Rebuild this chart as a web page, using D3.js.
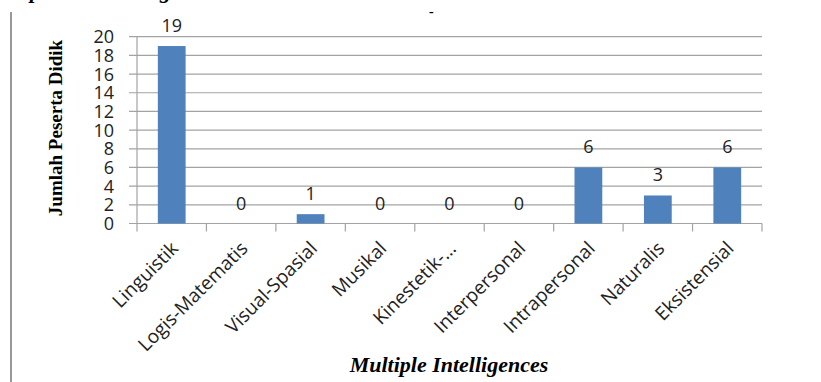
<!DOCTYPE html>
<html><head><meta charset="utf-8">
<script src="https://cdn.jsdelivr.net/npm/d3@7/dist/d3.min.js"></script>
<style>body{margin:0;background:#fff}svg{display:block}</style>
</head><body>
<script>
const categories = ["Linguistik","Logis-Matematis","Visual-Spasial","Musikal","Kinestetik-…","Interpersonal","Intrapersonal","Naturalis","Eksistensial"];
const values = [19,0,1,0,0,0,6,3,6];
const yTicks = [0,2,4,6,8,10,12,14,16,18,20];
const yTitle = "Jumlah Peserta Didik";
const xTitle = "Multiple Intelligences";

const W = 821, H = 382;
const svg = d3.select("body").append("svg").attr("width", W).attr("height", H);

// left page border line
svg.append("line").attr("x1",11).attr("x2",11).attr("y1",12).attr("y2",H)
  .attr("stroke","#999").attr("stroke-width",2);

// cut-off caption fragments at top
const frag = svg.append("g").attr("font-family","Liberation Serif").attr("font-weight","bold").attr("font-style","italic").attr("font-size",22).attr("fill","#000");
frag.append("text").attr("x",30).attr("y",-2).text("p");
frag.append("text").attr("x",160).attr("y",-2).text("g");
frag.append("text").attr("x",429).attr("y",16).attr("font-size",14).attr("font-style","normal").text("-");

const x = d3.scaleBand().domain(categories).range([137, 762]).paddingInner(0.6).paddingOuter(0.3);
const y = d3.scaleLinear().domain([0,20]).range([223.5, 36.7]);

// gridlines
svg.append("g").selectAll("line").data(yTicks).join("line")
  .attr("x1",129).attr("x2",762).attr("y1",d=>y(d)).attr("y2",d=>y(d))
  .attr("stroke","#a3a3a3").attr("stroke-width",1.2);

// y axis line
svg.append("line").attr("x1",137).attr("x2",137).attr("y1",y(20)).attr("y2",y(0)).attr("stroke","#a3a3a3").attr("stroke-width",1.2);
// x axis ticks
const xt = d3.range(categories.length+1).map(i => 137 + i*x.step());
svg.append("g").selectAll("line").data(xt).join("line")
  .attr("x1",d=>d).attr("x2",d=>d).attr("y1",y(0)).attr("y2",y(0)+8)
  .attr("stroke","#a3a3a3").attr("stroke-width",1.2);

// y tick labels
svg.append("g").selectAll("text").data(yTicks).join("text")
  .attr("x",114).attr("y",d=>y(d)).attr("dy","0.36em").attr("text-anchor","end")
  .attr("font-family","Open Sans").attr("font-size",18).attr("fill","#222").text(d=>d);

// bars
svg.append("g").selectAll("rect").data(values).join("rect")
  .attr("x",(d,i)=>x(categories[i])).attr("width",x.bandwidth())
  .attr("y",d=>y(d)).attr("height",d=>y(0)-y(d)).attr("fill","#4F81BD");

// data labels
svg.append("g").selectAll("text").data(values).join("text")
  .attr("x",(d,i)=>x(categories[i])+x.bandwidth()/2).attr("y",d=>y(d)-14)
  .attr("text-anchor","middle").attr("font-family","Open Sans").attr("font-size",18).attr("fill","#222").text(d=>d);

// category labels
svg.append("g").selectAll("text").data(categories).join("text")
  .attr("transform",d=>`translate(${x(d)+x.bandwidth()/2+3},${245}) rotate(-45)`)
  .attr("text-anchor","end").attr("dy","0.35em")
  .attr("font-family","Open Sans").attr("font-size",19).attr("fill","#222").text(d=>d);

// axis titles
svg.append("text").attr("transform","translate(62,128) rotate(-90)").attr("text-anchor","middle")
  .attr("font-family","Liberation Serif").attr("font-weight","bold").attr("font-size",19).attr("fill","#000").text(yTitle);
svg.append("text").attr("x",449).attr("y",372).attr("text-anchor","middle")
  .attr("font-family","Liberation Serif").attr("font-weight","bold").attr("font-style","italic").attr("font-size",22).attr("fill","#000").text(xTitle);
</script>
</body></html>
